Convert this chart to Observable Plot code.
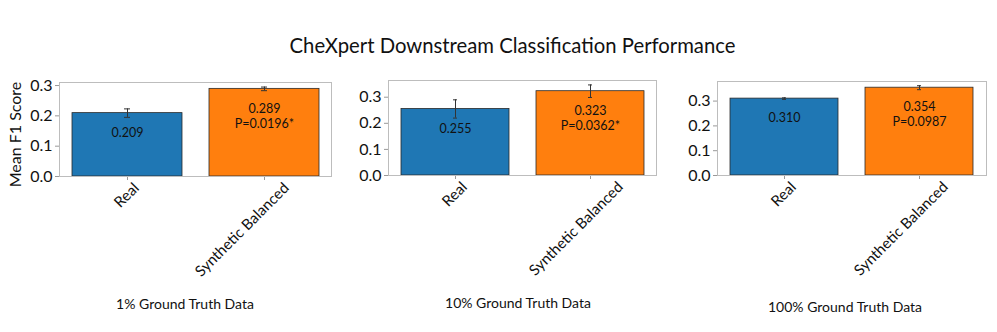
<!DOCTYPE html>
<html>
<head>
<meta charset="utf-8">
<script src="https://cdn.jsdelivr.net/npm/d3@7"></script>
<script src="https://cdn.jsdelivr.net/npm/@observablehq/plot@0.6"></script>
<style>
  body { margin: 0; background: #fff; font-family: Lato, "Open Sans", sans-serif; }
  #chart { position: relative; width: 997px; height: 332px; overflow: hidden; background: #fff; }
  .title { position: absolute; left: 0; width: 997px; top: 33px; text-align: center; font-size: 20.3px; color: #111; line-height: 24px; padding-left: 28px; box-sizing: border-box; }
  .sub { position: absolute; width: 240px; text-align: center; font-size: 14px; color: #111; line-height: 18px; }
  .panel { position: absolute; top: 0; }
  .panel svg { overflow: visible; }
</style>
</head>
<body>
<div id="chart">
  <div class="title">CheXpert Downstream Classification Performance</div>
</div>
<script>
// ---- data ----
const groups = ["1% Ground Truth Data", "10% Ground Truth Data", "100% Ground Truth Data"];
const categories = ["Real", "Synthetic Balanced"];
const realMeans = [0.209, 0.255, 0.310];
const synthMeans = [0.289, 0.323, 0.354];
const realErr = [0.014, 0.035, 0.003];
const synthErr = [0.006, 0.024, 0.008];
const pValues = ["P=0.0196*", "P=0.0362*", "P=0.0987"];
const yTicks = [0.0, 0.1, 0.2, 0.3];
const yAxisLabel = "Mean F1 Score";
const yLimits = [0.31, 0.364, 0.379];
const colors = ["#1f77b4", "#ff7f0e"];

// ---- layout (panel placement) ----
const panels = [
  {left: 0,   width: 345, marginLeft: 59, marginRight: 14, marginTop: 82, marginBottom: 124, subX: 185, subY: 295, lblDx: [9, 22]},
  {left: 340, width: 330, marginLeft: 48, marginRight: 14, marginTop: 80, marginBottom: 125, subX: 518, subY: 294, lblDx: [9, 30]},
  {left: 670, width: 327, marginLeft: 47, marginRight: 11, marginTop: 81, marginBottom: 125, subX: 845, subY: 298, lblDx: [9, 26]}
];

const chart = document.getElementById("chart");

panels.forEach((P, p) => {
  const data = categories.map((c, i) => {
    const mean = i === 0 ? realMeans[p] : synthMeans[p];
    const err = i === 0 ? realErr[p] : synthErr[p];
    const label = i === 0 ? mean.toFixed(3) : mean.toFixed(3) + "\n" + pValues[p];
    return {cat: c, mean, err, label};
  });

  const marks = [
    Plot.barY(data, {x: "cat", y: "mean", fill: "cat", stroke: "#2a2a2a", strokeWidth: 0.8}),
    Plot.ruleX(data, {x: "cat", y1: d => d.mean - d.err, y2: d => d.mean + d.err, stroke: "#333", strokeWidth: 1}),
    Plot.tickY(data, {x: "cat", y: d => d.mean - d.err, stroke: "#333", strokeWidth: 1, insetLeft: 52, insetRight: 52}),
    Plot.tickY(data, {x: "cat", y: d => d.mean + d.err, stroke: "#333", strokeWidth: 1, insetLeft: 52, insetRight: 52}),
    Plot.text(data, {x: "cat", y: "mean", text: "label", lineAnchor: "top", dy: 13, fontSize: 12.5, lineHeight: 1.2, fill: "#111"}),
    Plot.axisY({ticks: yTicks, tickFormat: ".1f", tickSize: 4, tickPadding: 3, stroke: "#999", fill: "#111", fontSize: 16, label: null}),
    Plot.axisX({tickSize: 4, label: null, text: null, stroke: "#999"}),
    Plot.frame({stroke: "#bdbdbd"})
  ];
  categories.forEach((c, i) => {
    marks.push(Plot.axisX({ticks: [c], tickSize: 0, tickRotate: -45, fill: "#111", fontSize: 15, tickPadding: 9, dx: P.lblDx[i], label: null}));
  });
  if (p === 0) {
    marks.push(Plot.text([yAxisLabel], {frameAnchor: "left", textAnchor: "middle", lineAnchor: "middle", rotate: -90, dx: -44, dy: 5, fontSize: 16, fill: "#111"}));
  }

  const plot = Plot.plot({
    width: P.width,
    height: 300,
    marginLeft: P.marginLeft,
    marginRight: P.marginRight,
    marginTop: P.marginTop,
    marginBottom: P.marginBottom,
    style: {fontFamily: "Lato, sans-serif", background: "transparent", color: "#111"},
    x: {domain: categories, paddingInner: 0.2, paddingOuter: 0.09, label: null},
    y: {domain: [0, yLimits[p]], label: null},
    color: {domain: categories, range: colors},
    marks
  });

  const div = document.createElement("div");
  div.className = "panel";
  div.style.left = P.left + "px";
  div.appendChild(plot);
  chart.appendChild(div);

  const sub = document.createElement("div");
  sub.className = "sub";
  sub.style.left = (P.subX - 120) + "px";
  sub.style.top = P.subY + "px";
  sub.textContent = groups[p];
  chart.appendChild(sub);
});
</script>
</body>
</html>
